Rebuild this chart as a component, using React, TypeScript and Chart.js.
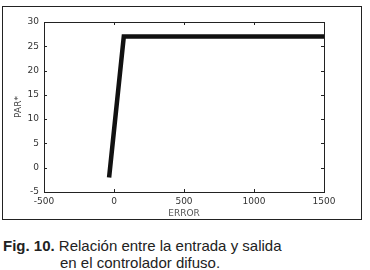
import React, { useEffect, useRef } from "react";
import { Chart, registerables } from "chart.js";
Chart.register(...registerables);

const errorValues = [-35, 70, 1500];
const parValues = [-2, 27, 27];
const xTicks = [-500, 0, 500, 1000, 1500];
const yTicks = [-5, 0, 5, 10, 15, 20, 25, 30];
const xTitle = "ERROR";
const yTitle = "PAR*";
const captionBold = "Fig. 10.";
const captionLine1 = "Relación entre la entrada y salida";
const captionLine2 = "en el controlador difuso.";

const framePlugin = {
  id: "frame",
  afterDraw(chart: any) {
    const { ctx, chartArea: a, scales } = chart;
    ctx.save();
    ctx.strokeStyle = "#222";
    ctx.lineWidth = 1;
    ctx.strokeRect(Math.round(a.left) + 0.5, Math.round(a.top) + 0.5, Math.round(a.right - a.left), Math.round(a.bottom - a.top));
    ctx.beginPath();
    const t = 3;
    for (const v of xTicks) {
      const x = Math.round(scales.x.getPixelForValue(v)) + 0.5;
      ctx.moveTo(x, a.top); ctx.lineTo(x, a.top + t);
      ctx.moveTo(x, a.bottom); ctx.lineTo(x, a.bottom - t);
    }
    for (const v of yTicks) {
      const y = Math.round(scales.y.getPixelForValue(v)) + 0.5;
      ctx.moveTo(a.left, y); ctx.lineTo(a.left + t, y);
      ctx.moveTo(a.right, y); ctx.lineTo(a.right - t, y);
    }
    ctx.stroke();
    ctx.restore();
  },
};

function ChartBox() {
  const ref = useRef<HTMLCanvasElement>(null);
  useEffect(() => {
    const font = { family: "'DejaVu Sans', Verdana, sans-serif", size: 9 };
    const chart = new Chart(ref.current!, {
      type: "line",
      data: {
        datasets: [
          {
            data: errorValues.map((x, i) => ({ x, y: parValues[i] })),
            borderColor: "#111",
            borderWidth: 4.5,
            pointRadius: 0,
            tension: 0,
            fill: false,
          },
        ],
      },
      options: {
        animation: false,
        responsive: false,
        maintainAspectRatio: false,
        layout: { padding: { top: 15, right: 37, left: 0, bottom: 0 } },
        plugins: { legend: { display: false }, tooltip: { enabled: false } },
        scales: {
          x: {
            type: "linear",
            min: -500,
            max: 1500,
            afterBuildTicks: (s: any) => { s.ticks = xTicks.map((v) => ({ value: v })); },
            afterFit: (s: any) => { s.height = 27; },
            grid: { display: false, drawTicks: false },
            border: { display: false },
            ticks: { color: "#333", font, padding: 4, maxRotation: 0, callback: (v: any) => String(v) },
            title: { display: true, text: xTitle, color: "#555", font, padding: { top: 0, bottom: 0 } },
          },
          y: {
            type: "linear",
            min: -5,
            max: 30,
            afterBuildTicks: (s: any) => { s.ticks = yTicks.map((v) => ({ value: v })); },
            afterFit: (s: any) => { s.width = 41; },
            grid: { display: false, drawTicks: false },
            border: { display: false },
            ticks: { color: "#333", font, padding: 5, callback: (v: any) => String(v) },
            title: { display: true, text: yTitle, color: "#444", font, padding: { top: 10, bottom: 0 } },
          },
        },
      },
      plugins: [framePlugin],
    } as any);
    return () => chart.destroy();
  }, []);
  return <canvas ref={ref} width={358} height={212} style={{ position: "absolute", left: 3, top: 7, width: 358, height: 212 }} />;
}

export default function App() {
  return (
    <div style={{ position: "absolute", left: 0, top: 0, width: 370, height: 270, background: "#fff", overflow: "hidden" }}>
      <div style={{ position: "absolute", left: 2, top: 6, width: 360, height: 214, border: "1px solid #222", boxSizing: "border-box" }} />
      <ChartBox />
      <div style={{ position: "absolute", left: 3, top: 237, fontFamily: "'Liberation Sans', Arial, sans-serif", fontSize: 15, lineHeight: "17px", color: "#222", whiteSpace: "nowrap" }}>
        <div><b>{captionBold}</b> {captionLine1}</div>
        <div style={{ paddingLeft: 57 }}>{captionLine2}</div>
      </div>
    </div>
  );
}
